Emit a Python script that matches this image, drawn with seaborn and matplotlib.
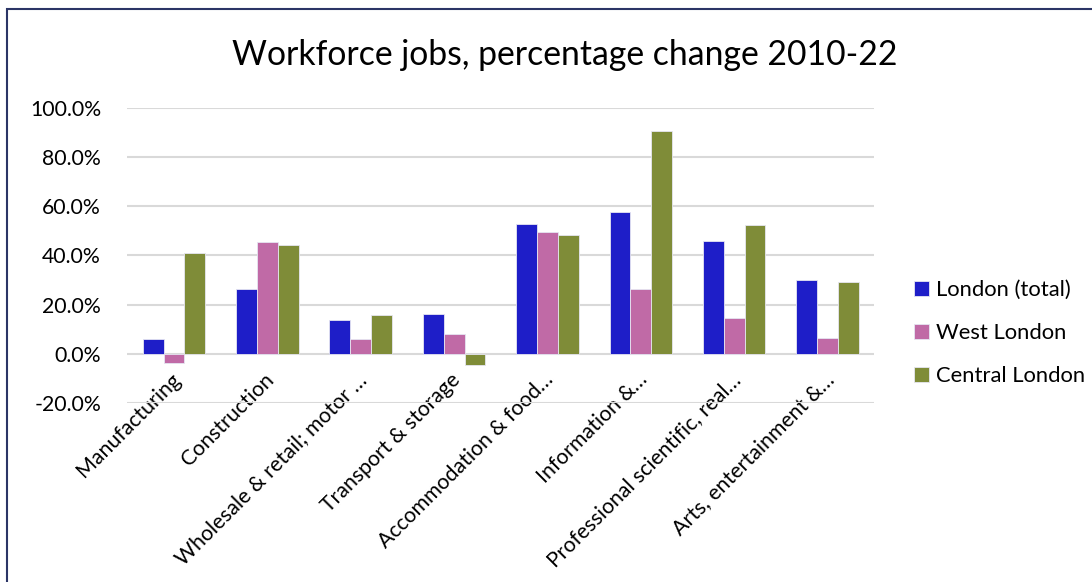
import matplotlib
matplotlib.use("Agg")
import matplotlib.pyplot as plt
from matplotlib.patches import Rectangle
from matplotlib.ticker import FuncFormatter, MultipleLocator
from matplotlib.transforms import ScaledTranslation
import pandas as pd
import seaborn as sns

sectors = [
    "Manufacturing",
    "Construction",
    "Wholesale & retail; motor …",
    "Transport & storage",
    "Accommodation & food…",
    "Information &…",
    "Professional scientific, real…",
    "Arts, entertainment &…",
]
regions = ["London (total)", "West London", "Central London"]
london_total = [6.2, 26.3, 13.7, 16.1, 53.0, 57.7, 45.9, 30.1]
west_london = [-3.8, 45.4, 6.2, 7.9, 49.6, 26.2, 14.4, 6.6]
central_london = [41.2, 44.3, 15.7, -4.5, 48.4, 90.8, 52.6, 29.4]
colors = ["#1E1EC8", "#C06AA6", "#7F8C38"]

df = pd.DataFrame({
    "sector": sectors * 3,
    "region": [r for r in regions for _ in sectors],
    "change": london_total + west_london + central_london,
})

sns.set_theme(style="white")
plt.rcParams["font.family"] = ["Lato", "DejaVu Sans"]

fig = plt.figure(figsize=(10.92, 5.82), dpi=100)
ax = fig.add_axes([0.1166, 0.3076, 0.684, 0.5068])

sns.barplot(
    data=df, x="sector", y="change", hue="region",
    palette=colors, saturation=1, width=0.67,
    edgecolor="#E6E6F2", linewidth=0.6, ax=ax, legend=True,
)

ax.set_ylim(-20, 100)
ax.set_xlim(-0.5, len(sectors) - 0.5)
ax.yaxis.set_major_locator(MultipleLocator(20))
ax.yaxis.set_major_formatter(FuncFormatter(lambda v, _: f"{v:.1f}%"))
ax.grid(axis="y", color="#D9D9D9", linewidth=1.5)
ax.set_axisbelow(True)
for s in ax.spines.values():
    s.set_visible(False)
ax.tick_params(axis="both", length=0, labelsize=15.3, colors="#000000")
ax.tick_params(axis="y", pad=19)
ax.tick_params(axis="x", pad=-19)
ax.set_xlabel("")
ax.set_ylabel("")

# category labels sit just under the zero line, slanted at 45 degrees
shift = ScaledTranslation(0.03, 0, fig.dpi_scale_trans)
for lab in ax.get_xticklabels():
    lab.set_rotation(45)
    lab.set_ha("right")
    lab.set_va("center")
    lab.set_rotation_mode("anchor")
    lab.set_transform(lab.get_transform() + shift)

fig.text(565 / 1092, 1 - 55 / 582, "Workforce jobs, percentage change 2010-22",
         ha="center", va="center", fontsize=24.3, color="#000000")

handles, labels = ax.get_legend_handles_labels()
leg = ax.legend(handles, labels, loc="center left",
                bbox_to_anchor=(914 / 1092, 1 - 333 / 582),
                bbox_transform=fig.transFigure, frameon=False, fontsize=15.8,
                handlelength=0.7, handleheight=0.7, handletextpad=0.3,
                labelspacing=1.05, borderpad=0, borderaxespad=0)
for t in leg.get_texts():
    t.set_color("#000000")

fig.patches.append(Rectangle((7 / 1092, -0.05), 1.2, 1 - 9 / 582 + 0.05,
                             transform=fig.transFigure, fill=False,
                             edgecolor="#2B3566", linewidth=1.5))

fig.savefig("out.png", dpi=100, facecolor="white")
